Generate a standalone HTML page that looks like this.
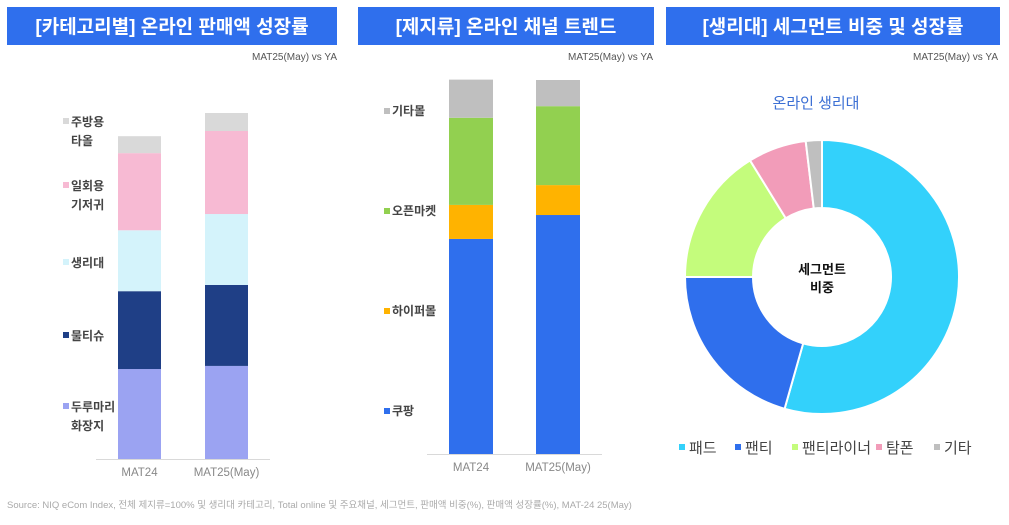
<!DOCTYPE html>
<html><head><meta charset="utf-8">
<style>
html,body{margin:0;padding:0;background:#fff;}
body{width:1009px;height:520px;overflow:hidden;font-family:"Liberation Sans","Noto Sans CJK KR",sans-serif;}
svg text{font-family:"Liberation Sans","Noto Sans CJK KR",sans-serif;}
</style></head>
<body>
<svg id="root" width="1009" height="520" viewBox="0 0 1009 520">
  <g>
    <rect x="7" y="7" width="330" height="38" fill="#2f6fed"/>
    <text x="172" y="33" text-anchor="middle" font-size="19" font-weight="bold" fill="#fff">[카테고리별] 온라인 판매액 성장률</text>
  </g>
  <g>
    <rect x="358" y="7" width="296" height="38" fill="#2f6fed"/>
    <text x="506" y="33" text-anchor="middle" font-size="19" font-weight="bold" fill="#fff">[제지류] 온라인 채널 트렌드</text>
  </g>
  <g>
    <rect x="666" y="7" width="334" height="38" fill="#2f6fed"/>
    <text x="833" y="33" text-anchor="middle" font-size="19" font-weight="bold" fill="#fff">[생리대] 세그먼트 비중 및 성장률</text>
  </g>
  <text x="337" y="60" text-anchor="end" font-size="10" fill="#555">MAT25(May) vs YA</text>
  <text x="653" y="60" text-anchor="end" font-size="10" fill="#555">MAT25(May) vs YA</text>
  <text x="998" y="60" text-anchor="end" font-size="10" fill="#555">MAT25(May) vs YA</text>
  <g id="chart1"></g>
  <g id="chart2"></g>
  <g id="chart3"></g>
  <text x="7" y="508" font-size="9.5" fill="#aaa">Source: NIQ  eCom Index, 전체 제지류=100% 및 생리대 카테고리, Total online 및 주요채널, 세그먼트, 판매액 비중(%), 판매액 성장률(%), MAT-24 25(May)</text>
</svg>
<script>
const NS="http://www.w3.org/2000/svg";
function mk(tag,attrs,parent){const e=document.createElementNS(NS,tag);for(const k in attrs)e.setAttribute(k,attrs[k]);parent.appendChild(e);return e;}

// Chart 1 data
const c1Categories=["MAT24","MAT25(May)"];
const c1Series=["두루마리 화장지","물티슈","생리대","일회용 기저귀","주방용 타올"];
const c1Colors=["#9ba3f2","#1f3f86","#d4f3fb","#f7bad3","#d9d9d9"];
const c1Values=[[26.0,22.5,17.6,22.3,4.9],[26.9,23.4,20.5,24.0,5.2]];
const c1LegendLines=[["두루마리","화장지"],["물티슈"],["생리대"],["일회용","기저귀"],["주방용","타올"]];
const c1LegendY=[411,340,267,190,126];

// Chart 2 data
const c2Categories=["MAT24","MAT25(May)"];
const c2Series=["쿠팡","하이퍼몰","오픈마켓","기타몰"];
const c2Colors=["#2f6fed","#ffb300","#92d050","#bfbfbf"];
const c2Values=[[57.5,9.1,23.3,10.2],[63.9,8.0,21.1,7.0]];
const c2LegendY=[415,315,215,115];

// Chart 3 data
const c3Labels=["패드","팬티","팬티라이너","탐폰","기타"];
const c3Colors=["#33d1fb","#2f6fed","#c4fc7c","#f29cb9","#bfbfbf"];
const c3Values=[54.4,20.6,16.2,6.9,1.9];

function stacked(g,cats,vals,colors,x0s,bw,base,top,maxV,series){
  const y=v=>base-(v/maxV)*(base-top);
  cats.forEach((c,i)=>{
    let acc=0;
    vals[i].forEach((v,j)=>{
      const r=mk('rect',{x:x0s[i],y:y(acc+v),width:bw,height:y(acc)-y(acc+v),fill:colors[j]},g);
      
      
      acc+=v;
    });
    const t=mk('text',{x:x0s[i]+bw/2,y:base+17,'text-anchor':'middle','font-size':11.5,fill:'#888'},g);
    t.textContent=c;
    
    
  });
}

// chart 1
const g1=document.getElementById('chart1');
stacked(g1,c1Categories,c1Values,c1Colors,[118,205],43,459,113,100);
const ax1=mk('line',{x1:96,x2:270,y1:459.5,y2:459.5,stroke:'#d9d9d9'},g1);


c1Series.forEach((s,j)=>{
  const lg=mk('g',{},g1);
  
  
  const lines=c1LegendLines[j];
  mk('rect',{x:63,y:c1LegendY[j]-8,width:6,height:6,fill:c1Colors[j]},lg);
  lines.forEach((l,k)=>{const t=mk('text',{x:71,y:c1LegendY[j]+k*19,'font-size':12,'font-weight':'bold',fill:'#444'},lg);t.textContent=l;});
});

// chart 2
const g2=document.getElementById('chart2');
stacked(g2,c2Categories,c2Values,c2Colors,[449,536],44,454,80,100);
const ax2=mk('line',{x1:427,x2:602,y1:454.5,y2:454.5,stroke:'#d9d9d9'},g2);


c2Series.forEach((s,j)=>{
  const lg=mk('g',{},g2);
  
  
  mk('rect',{x:384,y:c2LegendY[j]-7,width:6,height:6,fill:c2Colors[j]},lg);
  const t=mk('text',{x:392,y:c2LegendY[j],'font-size':12,'font-weight':'bold',fill:'#444'},lg);t.textContent=s;
});

// chart 3 donut
const g3=document.getElementById('chart3');
const tt=mk('text',{x:816,y:108,'text-anchor':'middle','font-size':15,fill:'#3b6fd4'},g3);
tt.textContent='온라인 생리대';


const cx=822,cy=277,R=137,r=69;
const total=c3Values.reduce((a,b)=>a+b,0);
let a0=0;
function pt(rad,ang){const t=ang*2*Math.PI;return [cx+rad*Math.sin(t),cy-rad*Math.cos(t)];}
c3Values.forEach((v,j)=>{
  const a1=a0+v/total;
  const [x1,y1]=pt(R,a0),[x2,y2]=pt(R,a1),[x3,y3]=pt(r,a1),[x4,y4]=pt(r,a0);
  const lf=(a1-a0)>0.5?1:0;
  const p=mk('path',{d:`M${x1},${y1}A${R},${R} 0 ${lf} 1 ${x2},${y2}L${x3},${y3}A${r},${r} 0 ${lf} 0 ${x4},${y4}Z`,fill:c3Colors[j],stroke:'#fff','stroke-width':2},g3);
  
  
  a0=a1;
});
const ct=mk('text',{x:cx,y:cy-3,'text-anchor':'middle','font-size':13,'font-weight':'bold',fill:'#111'},g3);
ct.textContent='세그먼트';


const ct2=mk('text',{x:cx,y:cy+15,'text-anchor':'middle','font-size':13,'font-weight':'bold',fill:'#111'},g3);
ct2.textContent='비중';


const legX=[679,735,792,876,934];
c3Labels.forEach((s,j)=>{
  const lg=mk('g',{},g3);
  
  
  mk('rect',{x:legX[j],y:444,width:6,height:6,fill:c3Colors[j]},lg);
  const t=mk('text',{x:legX[j]+10,y:453,'font-size':15,fill:'#444'},lg);t.textContent=s;
});
</script>
</body></html>
